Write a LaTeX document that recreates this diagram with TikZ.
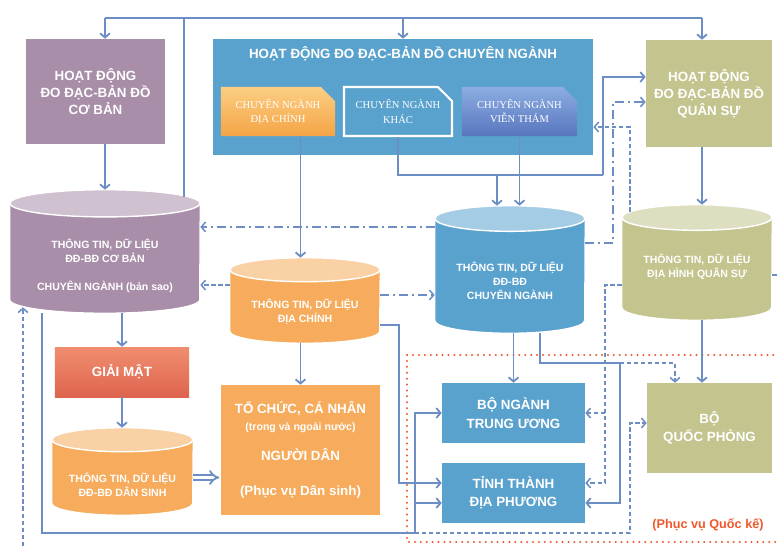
\documentclass[tikz,border=0pt]{standalone}
\usepackage{fontspec}
\setmainfont{Liberation Sans}
\newfontfamily\subfont{Liberation Serif}
\usetikzlibrary{shapes.misc,arrows.meta}

\definecolor{lineblue}{RGB}{108,142,196}
\definecolor{cbpurple}{RGB}{168,142,168}
\definecolor{cnblue}{RGB}{90,162,206}
\definecolor{qsgreen}{RGB}{195,196,142}
\definecolor{dcorange}{RGB}{246,172,92}
\definecolor{qkred}{RGB}{238,88,44}

% cylinder drawn into a (named) rectangle node: name, colour, half width, end radius
\newcommand{\drawstore}[4]{%
  \fill[#2, draw=white, line width=1pt] ([yshift=-#4]#1.north west) -- ([yshift=#4]#1.south west)
    arc[start angle=180, end angle=360, x radius=#3, y radius=#4] -- ([yshift=-#4]#1.north east) -- cycle;
  \filldraw[fill=#2!55!white, draw=white, line width=1pt] ([yshift=-#4]#1.north) ellipse[x radius=#3, y radius=#4];
}

\tikzset{
  conn/.style={draw=lineblue, line width=1.3pt},
  dsh/.style={conn, line width=1.1pt, dash pattern=on 3pt off 2pt},
  dashdot/.style={conn, line width=1.1pt, dash pattern=on 6pt off 3pt on 1.5pt off 3pt},
  boxtext/.style={text=white, font=\bfseries\fontsize{9.5}{12}\selectfont, align=center},
  actbox/.style={rectangle, boxtext, inner sep=2pt},
  subbox/.style={chamfered rectangle, chamfered rectangle corners=north east,
    chamfered rectangle xsep=5pt, chamfered rectangle ysep=5pt, minimum height=1.225cm,
    text=white, font=\subfont\fontsize{7.5}{10}\selectfont, align=center},
  datacyl/.style={rectangle, inner sep=0pt},
  cyltext/.style={text=white, font=\bfseries\fontsize{7.5}{10}\selectfont, align=center},
}

\begin{document}
\begin{tikzpicture}[x=0.025cm, y=-0.025cm, >={Straight Barb[length=3pt,width=7pt]}]
    \useasboundingbox (0,0) rectangle (777,548);

    % Quoc ke frame
    \draw[qkred, line width=1.6pt, line cap=round, dash pattern=on 0pt off 4.2pt] (407,355) rectangle (790,542);
    \node[text=qkred, font=\bfseries\fontsize{9}{11}\selectfont] (qkLabel) at (708,525) {(Phục vụ Quốc kế)};

    % Activities
    \node[actbox, fill=cbpurple, minimum width=3.475cm, minimum height=2.625cm] (cbAct) at (95.5,91.5) {HOẠT ĐỘNG\\ĐO ĐẠC-BẢN ĐỒ\\CƠ BẢN};
    \node[actbox, fill=cnblue, minimum width=9.5cm, minimum height=2.9cm] (cnAct) at (403,97) {};
    \node[boxtext] (cnTitle) at (403,54) {HOẠT ĐỘNG ĐO ĐẠC-BẢN ĐỒ CHUYÊN NGÀNH};
    \node[actbox, fill=qsgreen, minimum width=3.15cm, minimum height=2.675cm] (qsAct) at (709,93.5) {HOẠT ĐỘNG\\ĐO ĐẠC-BẢN ĐỒ\\QUÂN SỰ};

    % Sub-branches
    \node[subbox, top color={rgb,255:red,252;green,206;blue,130}, bottom color={rgb,255:red,244;green,164;blue,70}, minimum width=2.85cm] (dcBox) at (278,111.5) {CHUYÊN NGÀNH\\ĐỊA CHÍNH};
    \node[subbox, draw=white, line width=1.5pt, minimum width=2.7cm] (khBox) at (398,111.5) {CHUYÊN NGÀNH\\KHÁC};
    \node[subbox, top color={rgb,255:red,140;green,172;blue,226}, bottom color={rgb,255:red,88;green,118;blue,190}, minimum width=2.875cm] (vtBox) at (519.5,111.5) {CHUYÊN NGÀNH\\VIỄN THÁM};

    % Data stores
    \node[datacyl, minimum width=4.75cm, minimum height=3.075cm] (cbData) at (105,251.5) {};
    \node[datacyl, minimum width=3.75cm, minimum height=2.125cm] (dcData) at (305,300.5) {};
    \node[datacyl, minimum width=3.75cm, minimum height=3.175cm] (cnData) at (510,269.5) {};
    \node[datacyl, minimum width=3.75cm, minimum height=2.875cm] (qsData) at (697,262.5) {};
    \node[datacyl, minimum width=3.525cm, minimum height=2.175cm] (dsData) at (122.5,471.5) {};
    \drawstore{cbData}{cbpurple}{2.375cm}{0.34cm}
    \drawstore{dcData}{dcorange}{1.875cm}{0.3cm}
    \drawstore{cnData}{cnblue}{1.875cm}{0.32cm}
    \drawstore{qsData}{qsgreen}{1.875cm}{0.32cm}
    \drawstore{dsData}{dcorange}{1.7625cm}{0.3cm}
    \node[cyltext] (cbDataT) at (105,266) {THÔNG TIN, DỮ LIỆU\\ĐĐ-BĐ CƠ BẢN\\[10pt]CHUYÊN NGÀNH (bản sao)};
    \node[cyltext] (dcDataT) at (305,312) {THÔNG TIN, DỮ LIỆU\\ĐỊA CHÍNH};
    \node[cyltext] (cnDataT) at (510,281) {THÔNG TIN, DỮ LIỆU\\ĐĐ-BĐ\\CHUYÊN NGÀNH};
    \node[cyltext] (qsDataT) at (697,267) {THÔNG TIN, DỮ LIỆU\\ĐỊA HÌNH QUÂN SỰ};
    \node[cyltext] (dsDataT) at (122.5,485) {THÔNG TIN, DỮ LIỆU\\ĐĐ-BĐ DÂN SINH};

    % Users
    \node[actbox, top color={rgb,255:red,240;green,142;blue,112}, bottom color={rgb,255:red,222;green,100;blue,78}, minimum width=3.35cm, minimum height=1.25cm] (gmBox) at (122,372) {GIẢI MẬT};
    \node[actbox, fill=dcorange, minimum width=3.975cm, minimum height=3.25cm] (tcBox) at (300.5,450) {TỔ CHỨC, CÁ NHÂN\\{\fontsize{7.5}{9}\selectfont(trong và ngoài nước)}\\[9pt]NGƯỜI DÂN\\[13pt](Phục vụ Dân sinh)};
    \node[actbox, fill=cnblue, font=\bfseries\fontsize{9.5}{13}\selectfont, minimum width=3.575cm, minimum height=1.5cm] (bnBox) at (513.5,413) {BỘ NGÀNH\\TRUNG ƯƠNG};
    \node[actbox, fill=cnblue, font=\bfseries\fontsize{9.5}{13}\selectfont, minimum width=3.575cm, minimum height=1.5cm] (ttBox) at (513.5,493) {TỈNH THÀNH\\ĐỊA PHƯƠNG};
    \node[actbox, fill=qsgreen, font=\bfseries\fontsize{9.5}{13}\selectfont, minimum width=3.125cm, minimum height=2.25cm] (qpBox) at (709.5,428) {BỘ\\QUỐC PHÒNG};

    % Bus from basic data up to the three activities
    \coordinate (busL) at (105,18);
    \coordinate (busR) at (702,18);
    \coordinate (upX) at (184,197);
    \draw[conn] (upX) -- (upX |- busL);
    \draw[conn] (busL) -- (busR);
    \draw[conn,->] (busL) -- (cbAct.north -| busL);
    \draw[conn,->] (cnAct.north |- busL) -- (cnAct.north);
    \draw[conn,->] (busR) -- (qsAct.north -| busR);
    \draw[conn,->] (cbAct.south -| busL) -- (cbData.north -| busL);

    % Sub-branches down to specialised data
    \coordinate (kRow) at (497,175);
    \coordinate (qsBend) at (603,175);
    \draw[conn] (khBox.south) |- (qsBend);
    \draw[conn,->] (qsBend) |- ([yshift=0.4125cm]qsAct.west);
    \draw[conn,->] (kRow) -- (kRow |- cnData.north);
    \draw[conn,->] (vtBox.south) -- (vtBox.south |- cnData.north);
    \draw[conn,->] (dcBox.south -| tcBox.north) -- (dcData.north -| tcBox.north);

    % Specialised data <-> military
    \coordinate (ddR) at ([yshift=0.6625cm]cnData.east);
    \coordinate (ddX) at (613,0);
    \draw[dashdot,->] (ddR) -- (ddR -| ddX) |- ([yshift=-0.2125cm]qsAct.west);
    \coordinate (qsTopL) at ([xshift=-1.675cm,yshift=-0.175cm]qsData.north);
    \draw[dsh,->] (qsTopL) |- ([yshift=-0.75cm]cnAct.east);
    \draw[conn,->] (qsAct.south -| busR) -- (qsData.north -| busR);
    \draw[conn,->] (qsData.south -| busR) -- (qpBox.north -| busR);

    % Back into basic data
    \coordinate (cnLeft) at ([yshift=1.0625cm]cnData.west);
    \draw[dashdot,->] (cnLeft) -- (cnLeft -| cbData.east);
    \coordinate (dcLeft) at ([yshift=0.3875cm]dcData.west);
    \draw[dsh,->] (dcLeft) -- (dcLeft -| cbData.east);
    \coordinate (dcRight) at ([yshift=0.1375cm]dcData.east);
    \draw[dashdot,->] (dcRight) -- (dcRight -| cnData.west);

    % Cadastral data to provinces and people
    \coordinate (dcLow) at ([yshift=-0.6125cm]dcData.east);
    \coordinate (dcX) at (399,0);
    \draw[conn,->] (dcLow) -- (dcLow -| dcX) |- ([yshift=0.25cm]ttBox.west);
    \draw[conn,->] (dcData.south -| tcBox.north) -- (tcBox.north);

    % Left column
    \draw[conn,->] (cbData.south -| gmBox.north) -- (gmBox.north);
    \draw[conn,->] (gmBox.south) -- (dsData.north -| gmBox.south);
    \draw[lineblue, line width=1.3pt, double=white, double distance=2.2pt, -{Implies}, shorten >=1pt] ([yshift=-0.15cm]dsData.east) -- ([yshift=-0.15cm]dsData.east -| tcBox.west);

    % Basic data to ministries, provinces and defence
    \coordinate (botL) at (42,533);
    \coordinate (botM) at (415,533);
    \coordinate (botR) at (630,533);
    \draw[conn,->] (cbData.south -| botL) -- (botL) -- (botM) |- (bnBox.west);
    \coordinate (ttLow) at ([yshift=-0.25cm]ttBox.west);
    \draw[conn,->] (botM |- ttLow) -- (ttLow);
    \draw[dsh,->] (botM) -- (botR) |- ([yshift=0.125cm]qpBox.west);

    % Specialised data down
    \draw[conn,->] (bnBox.north |- cnData.south) -- (bnBox.north);
    \coordinate (cnR) at (540,363);
    \coordinate (cnRR) at (620,363);
    \draw[conn,->] (cnData.south -| cnR) -- (cnR) -- (cnRR) |- ([yshift=-0.25cm]ttBox.east);
    \draw[dsh,->] (cnRR) -| ([xshift=-0.8625cm]qpBox.north);

    % Military data to ministries and provinces
    \coordinate (qsLeft) at ([yshift=-0.5625cm]qsData.west);
    \coordinate (dashX) at (605,0);
    \draw[dsh,->] (qsLeft) -- (qsLeft -| dashX) |- ([yshift=0.25cm]ttBox.east);
    \draw[dsh,->] (bnBox.east -| dashX) -- (bnBox.east);

    % Military data back to basic data (round the page edge)
    \coordinate (qsRight) at ([yshift=-0.3125cm]qsData.east);
    \coordinate (cbIn) at ([xshift=-2.05cm,yshift=0.15cm]cbData.south);
    \coordinate (offB) at (800,560);
    \draw[dsh,->] (qsRight) -| (offB) -| (cbIn);
\end{tikzpicture}
\end{document}
